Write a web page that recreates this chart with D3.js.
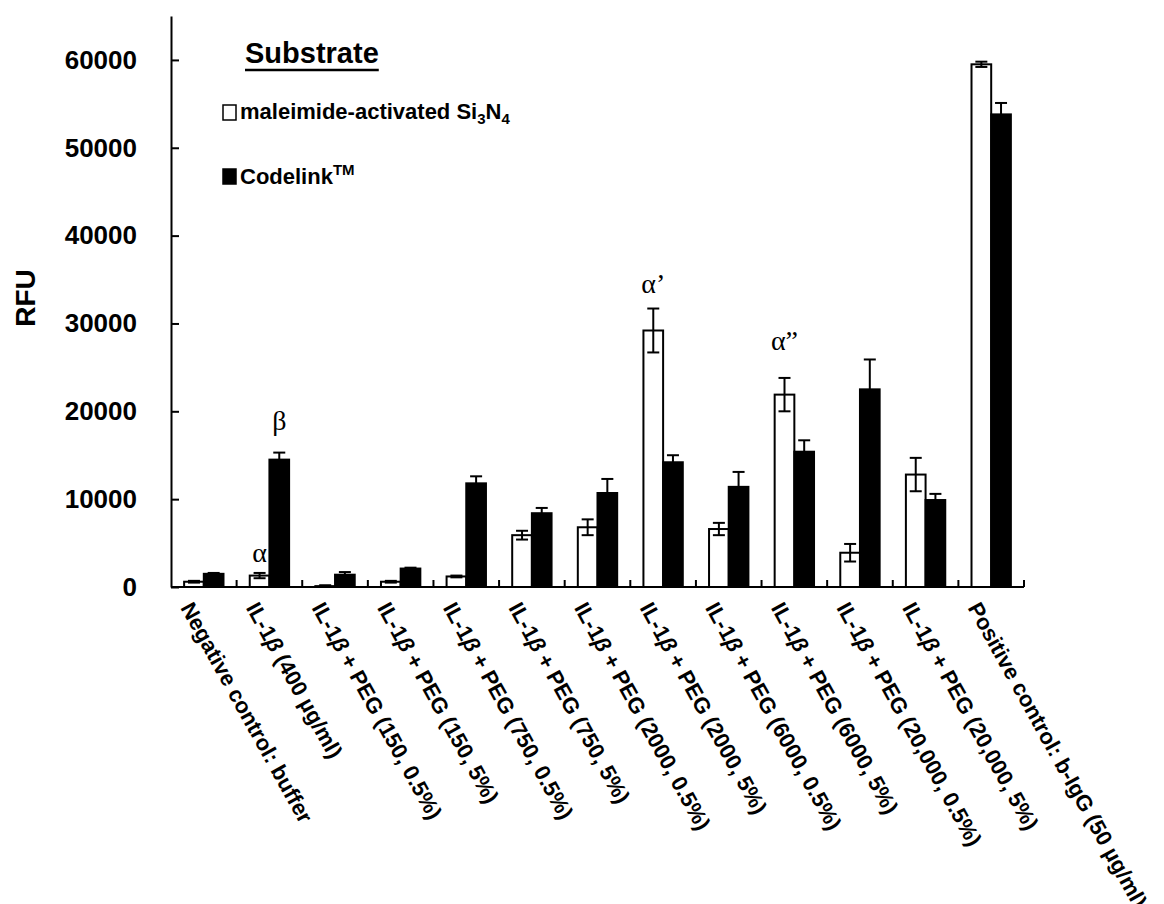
<!DOCTYPE html>
<html>
<head>
<meta charset="utf-8">
<script src="https://cdnjs.cloudflare.com/ajax/libs/d3/7.8.5/d3.min.js"></script>
<style>
  body { margin: 0; background: #fff; }
  svg { display: block; }
  text { font-family: Arial, "Liberation Sans", sans-serif; font-weight: bold; fill: #000; }
</style>
</head>
<body>
<svg width="1164" height="904"></svg>
<script>
// categories along the x axis
var categories = [
  "Negative control: buffer",
  "IL-1β (400 µg/ml)",
  "IL-1β + PEG (150, 0.5%)",
  "IL-1β + PEG (150, 5%)",
  "IL-1β + PEG (750, 0.5%)",
  "IL-1β + PEG (750, 5%)",
  "IL-1β + PEG (2000, 0.5%)",
  "IL-1β + PEG (2000, 5%)",
  "IL-1β + PEG (6000, 0.5%)",
  "IL-1β + PEG (6000, 5%)",
  "IL-1β + PEG (20,000, 0.5%)",
  "IL-1β + PEG (20,000, 5%)",
  "Positive control: b-IgG (50 µg/ml)"
];
var seriesNames = ["maleimide", "codelink"];

// RFU values
var maleimideValues = [600, 1300, 100, 600, 1200, 5900, 6800, 29200, 6600, 21900, 3900, 12800, 59500];
var maleimideErrors = [100, 300, 100, 100, 100, 500, 900, 2500, 700, 1900, 1000, 1900, 300];
var codelinkValues = [1500, 14500, 1400, 2100, 11800, 8400, 10700, 14200, 11400, 15400, 22500, 9900, 53800];
var codelinkErrors = [100, 800, 300, 100, 800, 600, 1600, 800, 1700, 1300, 3400, 700, 1300];

var yTicks = [0, 10000, 20000, 30000, 40000, 50000, 60000];
var yMax = 65000;

// letters written above some bars: [category index, series index, text]
var annotations = [[1, 0, "α"], [1, 1, "β"], [7, 0, "α’"], [9, 0, "α”"]];
var annotationGaps = [11, 23, 16, 28];

var svg = d3.select("svg");

var plotLeft = 171, plotRight = 1024, plotTop = 16, plotBase = 587;

var x0 = d3.scaleBand().domain(categories).range([plotLeft, plotRight]).paddingInner(0.4).paddingOuter(0.2);
var x1 = d3.scaleBand().domain(seriesNames).range([0, x0.bandwidth()]);
var y = d3.scaleLinear().domain([0, yMax]).range([plotBase, plotTop]);

var rows = categories.map(function(c, i) {
  return {
    cat: c,
    bars: [
      {s: "maleimide", v: maleimideValues[i], e: maleimideErrors[i]},
      {s: "codelink", v: codelinkValues[i], e: codelinkErrors[i]}
    ]
  };
});

// bars
var groups = svg.append("g").selectAll("g")
  .data(rows).enter().append("g")
  .attr("transform", function(d) { return "translate(" + x0(d.cat) + ",0)"; });

groups.selectAll("rect")
  .data(function(d) { return d.bars; })
  .enter().append("rect")
  .attr("x", function(d) { return x1(d.s); })
  .attr("y", function(d) { return y(d.v); })
  .attr("width", x1.bandwidth())
  .attr("height", function(d) { return plotBase - y(d.v); })
  .attr("fill", function(d) { return d.s == "maleimide" ? "#fff" : "#000"; })
  .attr("stroke", "#000")
  .attr("stroke-width", 2);

// error bars
var capW = 12;
var err = groups.selectAll("g.err")
  .data(function(d) { return d.bars; })
  .enter().append("g").attr("class", "err")
  .attr("transform", function(d) { return "translate(" + (x1(d.s) + x1.bandwidth() / 2) + ",0)"; })
  .attr("stroke", "#000").attr("stroke-width", 2);
err.append("line")
  .attr("y1", function(d) { return y(d.v - d.e); })
  .attr("y2", function(d) { return y(d.v + d.e); });
err.append("line")
  .attr("x1", -capW / 2).attr("x2", capW / 2)
  .attr("y1", function(d) { return y(d.v + d.e); })
  .attr("y2", function(d) { return y(d.v + d.e); });
err.append("line")
  .attr("x1", -capW / 2).attr("x2", capW / 2)
  .attr("y1", function(d) { return y(d.v - d.e); })
  .attr("y2", function(d) { return y(d.v - d.e); });

// y axis, ticks point into the plot
var yAxis = d3.axisLeft(y).tickValues(yTicks).tickSizeInner(-8).tickSizeOuter(0).tickPadding(34)
  .tickFormat(d3.format("d"));
var yg = svg.append("g").attr("transform", "translate(" + plotLeft + ",0)").call(yAxis);
yg.select(".domain").attr("stroke-width", 2);
yg.selectAll(".tick line").attr("stroke-width", 2);
yg.selectAll(".tick text").style("font-size", "26px").attr("font-family", null);

svg.append("text")
  .attr("transform", "translate(35,298) rotate(-90)")
  .attr("text-anchor", "middle")
  .style("font-size", "28px")
  .text("RFU");

// x axis line and ticks between categories
svg.append("line")
  .attr("x1", plotLeft).attr("x2", plotRight).attr("y1", plotBase).attr("y2", plotBase)
  .attr("stroke", "#000").attr("stroke-width", 2);
svg.append("g").selectAll("line")
  .data(categories).enter().append("line")
  .attr("x1", function(d) { return x0(d) + x0.bandwidth() + x0.step() * 0.2; })
  .attr("x2", function(d) { return x0(d) + x0.bandwidth() + x0.step() * 0.2; })
  .attr("y1", plotBase).attr("y2", plotBase - 7)
  .attr("stroke", "#000").attr("stroke-width", 2);

// rotated category labels, beta in italics
var labels = svg.append("g").selectAll("text")
  .data(categories).enter().append("text")
  .attr("transform", function(d) {
    return "translate(" + (x0(d) + x0.bandwidth() / 2 - 10) + ",600) rotate(61)";
  })
  .attr("dy", "0.72em")
  .style("font-size", "22px");
labels.each(function(d) {
  var t = d3.select(this);
  d.split("β").forEach(function(part, i) {
    if (i > 0) t.append("tspan").style("font-style", "italic").text("β");
    t.append("tspan").text(part);
  });
});

// annotations above bars
svg.append("g").selectAll("text")
  .data(annotations).enter().append("text")
  .attr("x", function(d) { return x0(categories[d[0]]) + x1(seriesNames[d[1]]) + x1.bandwidth() / 2; })
  .attr("y", function(d, i) {
    var v = d[1] == 0 ? maleimideValues[d[0]] + maleimideErrors[d[0]] : codelinkValues[d[0]] + codelinkErrors[d[0]];
    return y(v) - annotationGaps[i];
  })
  .attr("text-anchor", "middle")
  .style("font-family", "'Times New Roman', 'Liberation Serif', serif")
  .style("font-weight", "normal")
  .style("font-size", "28px")
  .text(function(d) { return d[2]; });

// legend
var legend = svg.append("g");
var title = legend.append("text").attr("x", 245).attr("y", 63).style("font-size", "29px").text("Substrate");
var tw = title.node().getComputedTextLength();
legend.append("line").attr("x1", 245).attr("x2", 245 + tw).attr("y1", 70).attr("y2", 70)
  .attr("stroke", "#000").attr("stroke-width", 2.5);

legend.append("rect").attr("x", 223).attr("y", 105).attr("width", 13).attr("height", 15)
  .attr("fill", "#fff").attr("stroke", "#000").attr("stroke-width", 1.5);
var l1 = legend.append("text").attr("x", 240).attr("y", 119).style("font-size", "22px");
l1.append("tspan").text("maleimide-activated Si");
l1.append("tspan").attr("dy", 5).style("font-size", "15px").text("3");
l1.append("tspan").attr("dy", -5).text("N");
l1.append("tspan").attr("dy", 5).style("font-size", "15px").text("4");

legend.append("rect").attr("x", 223).attr("y", 169).attr("width", 13).attr("height", 15)
  .attr("fill", "#000").attr("stroke", "#000").attr("stroke-width", 1.5);
var l2 = legend.append("text").attr("x", 240).attr("y", 184).style("font-size", "22px");
l2.append("tspan").text("Codelink");
l2.append("tspan").attr("dy", -9).style("font-size", "15px").text("TM");
</script>
</body>
</html>
